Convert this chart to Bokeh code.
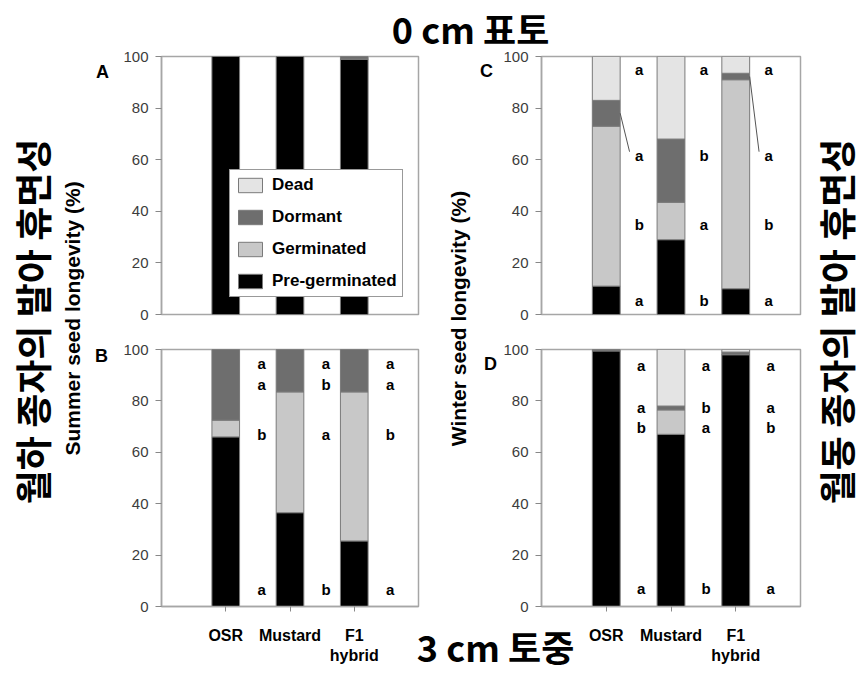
import math
from bokeh.plotting import figure
from bokeh.models import (Range1d, FixedTicker, Label, Legend, LegendItem,
                          ColumnDataSource, GridBox)
from bokeh.core.properties import value
from bokeh.embed import file_html
from bokeh.resources import INLINE

# ---------------- data ----------------
cultivars = ["OSR", "Mustard", "F1\nhybrid"]
fates = ["Pre-germinated", "Germinated", "Dormant", "Dead"]   # stack order, bottom -> top
y_ticks = [0, 20, 40, 60, 80, 100]

# A: summer seed longevity, 0 cm (surface)
A_pre = [100, 100, 99]
A_germ = [0, 0, 0]
A_dorm = [0, 0, 1]
A_dead = [0, 0, 0]

# C: winter seed longevity, 0 cm (surface)
C_pre = [11, 29, 10]
C_germ = [62, 14.5, 81]
C_dorm = [10, 24.5, 2.5]
C_dead = [17, 32, 6.5]

# B: summer seed longevity, 3 cm (buried)
B_pre = [66, 36.5, 25.5]
B_germ = [6.5, 47, 58]
B_dorm = [27.5, 16.5, 16.5]
B_dead = [0, 0, 0]

# D: winter seed longevity, 3 cm (buried)
D_pre = [99.5, 67, 98]
D_germ = [0, 9.5, 0]
D_dorm = [0.5, 1.5, 1]
D_dead = [0, 22, 1]

# significance letters per fate (OSR, Mustard, F1 hybrid)
B_sig = {"Dead": ["a", "a", "a"], "Dormant": ["a", "b", "a"],
         "Germinated": ["b", "a", "b"], "Pre-germinated": ["a", "b", "a"]}
C_sig = {"Dead": ["a", "a", "a"], "Dormant": ["a", "b", "a"],
         "Germinated": ["b", "a", "b"], "Pre-germinated": ["a", "b", "a"]}
D_sig = {"Dead": ["a", "a", "a"], "Dormant": ["a", "b", "a"],
         "Germinated": ["b", "a", "b"], "Pre-germinated": ["a", "b", "a"]}
C_leaders = [0, 2]   # cultivars whose dormant letter is tied to the bar by a line

# ---------------- style ----------------
LAT = "Liberation Sans"
KOR = "Noto Sans CJK KR"
COL = {"Pre-germinated": "#000000", "Germinated": "#c8c8c8",
       "Dormant": "#6e6e6e", "Dead": "#e4e4e4"}
BAR_W = 0.43
AX = "#a6a6a6"

x_pos = list(range(1, len(cultivars) + 1))


def make_panel(w, h, bl, br, bt, bb, xaxis):
    p = figure(width=w, height=h, x_range=Range1d(0, 4), y_range=Range1d(0, 100),
               toolbar_location=None, output_backend="svg", title=None,
               x_axis_location="below" if xaxis else None,
               min_border_left=bl, min_border_right=br,
               min_border_top=bt, min_border_bottom=bb)
    p.border_fill_color = None
    p.background_fill_color = "white"
    p.outline_line_color = AX
    p.outline_line_width = 1.5
    p.grid.visible = False
    ya = p.yaxis[0]
    ya.ticker = FixedTicker(ticks=y_ticks)
    ya.axis_line_color = AX
    ya.axis_line_width = 1.5
    ya.major_tick_line_color = "#888888"
    ya.major_tick_in = 0
    ya.major_tick_out = 6
    ya.minor_tick_line_color = None
    ya.major_label_standoff = 7
    ya.major_label_text_font = LAT
    ya.major_label_text_font_size = "15px"
    ya.major_label_text_color = "#3c3c3c"
    if xaxis:
        xa = p.xaxis[0]
        xa.ticker = FixedTicker(ticks=x_pos)
        xa.major_label_overrides = {xp: c for xp, c in zip(x_pos, cultivars)}
        xa.axis_line_color = AX
        xa.axis_line_width = 1.5
        xa.major_tick_line_color = "#888888"
        xa.major_tick_in = 0
        xa.major_tick_out = 5
        xa.minor_tick_line_color = None
        xa.major_label_standoff = 15
        xa.major_label_text_font = LAT
        xa.major_label_text_font_style = "bold"
        xa.major_label_text_font_size = "16px"
        xa.major_label_text_color = "black"
    return p


def add_bars(p, pre, germ, dorm, dead):
    src = ColumnDataSource(dict(x=x_pos, pre=pre, germ=germ, dorm=dorm, dead=dead))
    return p.vbar_stack(["pre", "germ", "dorm", "dead"], x="x", width=BAR_W, source=src,
                        fill_color=[COL[f] for f in fates],
                        line_color="#7a7a7a", line_width=1)


def add_letters(p, sig, rows_y, dx):
    xs, ys, tx = [], [], []
    for fate, yy in rows_y.items():
        for i, xp in enumerate(x_pos):
            xs.append(xp + dx)
            ys.append(yy)
            tx.append(sig[fate][i])
    p.text(x=xs, y=ys, text=tx, text_font=value(LAT), text_font_style="bold",
           text_font_size="15px", text_align="center", text_baseline="middle",
           text_color="black")


# grid geometry (column widths / row heights)
W0, W1 = 480, 383
H0, H1 = 331, 342

# ---------------- panels ----------------
pA = make_panel(W0, H0, 160, 62, 56, 17, False)
rA = add_bars(pA, A_pre, A_germ, A_dorm, A_dead)
legend = Legend(items=[LegendItem(label=f, renderers=[rA[fates.index(f)]])
                       for f in ["Dead", "Dormant", "Germinated", "Pre-germinated"]],
                location=(68, 17), orientation="vertical",
                glyph_width=30, glyph_height=18, label_height=20, label_standoff=7,
                spacing=12, padding=5, margin=0,
                label_text_font=LAT, label_text_font_style="bold",
                label_text_font_size="17px", label_text_color="black",
                border_line_color="#333333", border_line_width=1.5,
                background_fill_color="white", background_fill_alpha=1.0)
pA.add_layout(legend)

pC = make_panel(W1, H0, 61, 63, 56, 17, False)
add_bars(pC, C_pre, C_germ, C_dorm, C_dead)
C_rows = {"Dead": 95, "Dormant": 61.6, "Germinated": 35, "Pre-germinated": 5.4}
add_letters(pC, C_sig, C_rows, 0.51)
lx0, ly0, lx1, ly1 = [], [], [], []
for i in C_leaders:
    lx0.append(x_pos[i] + BAR_W / 2)
    ly0.append(C_pre[i] + C_germ[i] + C_dorm[i] / 2)
    lx1.append(x_pos[i] + 0.51 - 0.15)
    ly1.append(C_rows["Dormant"] + 1.5)
pC.segment(x0=lx0, y0=ly0, x1=lx1, y1=ly1, line_color="#555555", line_width=1)

pB = make_panel(W0, H1, 161, 59, 18, 67, True)
add_bars(pB, B_pre, B_germ, B_dorm, B_dead)
add_letters(pB, B_sig, {"Dead": 94.7, "Dormant": 86.3, "Germinated": 67,
                        "Pre-germinated": 6.8}, 0.56)

pD = make_panel(W1, H1, 61, 63, 18, 67, True)
add_bars(pD, D_pre, D_germ, D_dorm, D_dead)
add_letters(pD, D_sig, {"Dead": 93.8, "Dormant": 77.3, "Germinated": 69.5,
                        "Pre-germinated": 6.9}, 0.54)

# ---------------- background with shared titles ----------------
WT, HT = W0 + W1, H0 + H1
bg = figure(width=WT, height=HT, x_range=Range1d(0, WT), y_range=Range1d(HT, 0),
            toolbar_location=None, output_backend="svg", title=None,
            x_axis_type=None, y_axis_type=None, min_border=0)
bg.outline_line_color = None
bg.background_fill_color = "white"
bg.border_fill_color = "white"


def bg_label(txt, x, y, font, size, angle=0.0):
    bg.add_layout(Label(x=x, y=y, x_units="canvas", y_units="canvas", text=txt,
                        angle=angle, text_font=font, text_font_style="bold",
                        text_font_size=size, text_align="center",
                        text_baseline="middle", text_color="black"))


bg_label("0 cm 표토", 470, 27, KOR, "36px")
bg_label("3 cm 토중", 495, 645, KOR, "36px")
bg_label("월하 종자의 발아 휴면성", 31, 321, KOR, "37px", math.pi / 2)
bg_label("월동 종자의 발아 휴면성", 835, 321, KOR, "37px", math.pi / 2)
bg_label("Summer seed longevity (%)", 72, 318, LAT, "21px", math.pi / 2)
bg_label("Winter seed longevity (%)", 458, 318, LAT, "21px", math.pi / 2)
bg_label("A", 102, 71, LAT, "18px")
bg_label("B", 101, 355, LAT, "18px")
bg_label("C", 486, 70, LAT, "18px")
bg_label("D", 490, 363, LAT, "18px")

# the background spans extra empty edge tracks so that its frame is not
# aligned with the panel frames
layout = GridBox(children=[(bg, 0, 0, 4, 4), (pA, 1, 1), (pC, 1, 2),
                           (pB, 2, 1), (pD, 2, 2)])

open("out.html", "w").write(file_html(layout, INLINE))
